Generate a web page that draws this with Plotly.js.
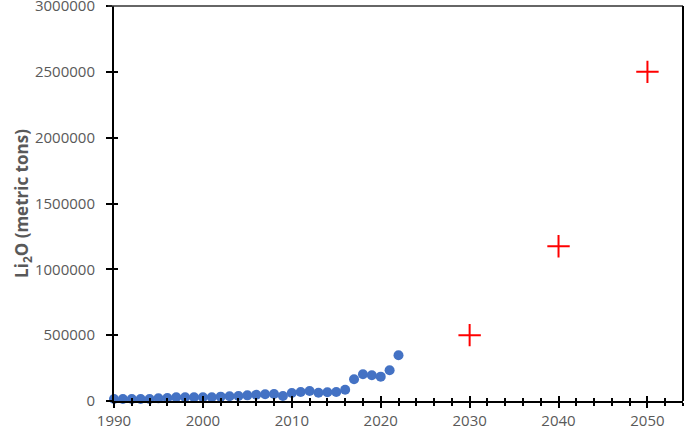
<!DOCTYPE html>
<html>
<head>
<meta charset="utf-8">
<script src="https://cdn.plot.ly/plotly-3.0.1.min.js"></script>
<style>
  html, body { margin: 0; padding: 0; background: #fff; }
  #chart { width: 685px; height: 430px; }
</style>
</head>
<body>
<div id="chart"></div>
<script>
// Li2O production, historical and projected
var histYears = [1990, 1991, 1992, 1993, 1994, 1995, 1996, 1997, 1998, 1999,
                 2000, 2001, 2002, 2003, 2004, 2005, 2006, 2007, 2008, 2009,
                 2010, 2011, 2012, 2013, 2014, 2015, 2016, 2017, 2018, 2019,
                 2020, 2021, 2022];
var histLi2O = [15000, 15000, 15000, 15000, 15000, 20000, 23000, 28000, 28000, 28000,
                28000, 28000, 33000, 36000, 38000, 43000, 48000, 51000, 53000, 38000,
                61000, 68000, 76000, 63000, 66000, 68000, 86000, 165000, 203000, 195000,
                185000, 233000, 347000];

var projYears = [2030, 2040, 2050];
var projLi2O = [500000, 1175000, 2500000];

var xRange = [1990, 2054];
var yRange = [0, 3000000];
var yTicks = [0, 500000, 1000000, 1500000, 2000000, 2500000, 3000000];

var tickFont = {family: "Open Sans, sans-serif", size: 15, color: "#595959"};

var historical = {
  x: histYears,
  y: histLi2O,
  type: "scatter",
  mode: "markers",
  marker: {symbol: "circle", size: 10, color: "#4472C4"},
  cliponaxis: false
};

var projected = {
  x: projYears,
  y: projLi2O,
  type: "scatter",
  mode: "markers",
  marker: {symbol: "cross-thin", size: 16, line: {color: "#FF0000", width: 2}},
  cliponaxis: false
};

// empty trace so the inner-tick overlay axes get drawn
var tickOverlay = {x: [], y: [], type: "scatter", xaxis: "x2", yaxis: "y2"};

var layout = {
  width: 685,
  height: 430,
  margin: {l: 114, r: 2, t: 6, b: 29},
  paper_bgcolor: "#fff",
  plot_bgcolor: "#fff",
  showlegend: false,
  font: {family: "Open Sans, sans-serif", color: "#595959"},
  xaxis: {
    range: xRange,
    tick0: 1990, dtick: 10, tickformat: "d",
    ticks: "outside", ticklen: 5, tickwidth: 2, tickcolor: "#000",
    minor: {dtick: 2, ticks: "outside", ticklen: 3, tickwidth: 2, tickcolor: "#000"},
    showline: true, linecolor: "#000", linewidth: 2,
    showgrid: false, zeroline: false,
    tickfont: tickFont, ticklabelstandoff: 0, ticklabeloverflow: "allow"
  },
  yaxis: {
    range: yRange,
    tickmode: "array", tickvals: yTicks, tickformat: "d",
    ticks: "outside", ticklen: 6, tickwidth: 2, tickcolor: "#000",
    showline: true, linecolor: "#000", linewidth: 2,
    showgrid: false, zeroline: false,
    tickfont: tickFont, ticklabelstandoff: 8, ticklabeloverflow: "allow",
    title: {
      text: "<b>Li<sub>2</sub>O (metric tons)</b>",
      font: {family: "Open Sans, sans-serif", size: 17, color: "#595959"},
      standoff: 2
    }
  },
  xaxis2: {
    range: xRange, overlaying: "x", anchor: "y",
    tick0: 1990, dtick: 10,
    ticks: "inside", ticklen: 5, tickwidth: 2, tickcolor: "#000",
    minor: {dtick: 2, ticks: "inside", ticklen: 3, tickwidth: 2, tickcolor: "#000"},
    showticklabels: false, showline: false, showgrid: false, zeroline: false
  },
  yaxis2: {
    range: yRange, overlaying: "y", anchor: "x",
    tickmode: "array", tickvals: yTicks,
    ticks: "inside", ticklen: 4, tickwidth: 2, tickcolor: "#000",
    showticklabels: false, showline: false, showgrid: false, zeroline: false
  },
  shapes: [
    {type: "line", xref: "paper", yref: "paper", x0: -0.011, x1: 1, y0: 1, y1: 1,
     line: {color: "#333", width: 1.5}},
    {type: "line", xref: "paper", yref: "paper", x0: 1, x1: 1, y0: 0, y1: 1,
     line: {color: "#000", width: 2}}
  ]
};

Plotly.newPlot("chart", [historical, projected, tickOverlay], layout, {staticPlot: true});
</script>
</body>
</html>
